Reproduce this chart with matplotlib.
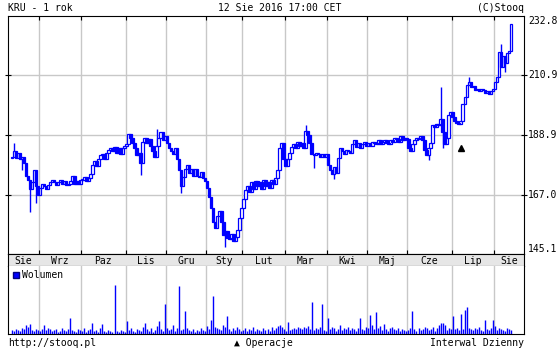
import matplotlib
matplotlib.use("Agg")
import matplotlib.pyplot as plt
import numpy as np

### DATA ###
months = ["Sie", "Wrz", "Paz", "Lis", "Gru", "Sty", "Lut", "Mar", "Kwi", "Maj", "Cze", "Lip", "Sie"]

close_aug15 = [181.0, 183.0, 180.5, 182.5, 180.0, 181.0, 178.5, 174.0, 172.5, 169.0, 171.5, 176.0, 170.0, 167.0]
close_sep = [169.5, 171.0, 170.0, 169.0, 170.5, 171.5, 172.5, 171.5, 170.5, 171.5, 172.5, 171.0, 172.0, 170.5,
             171.0, 172.0, 174.0, 171.0, 172.0, 171.0, 172.5]
close_oct = [172.5, 173.5, 172.0, 173.0, 174.5, 178.0, 179.5, 177.5, 180.0, 181.5, 182.0, 180.0, 182.5, 183.5,
             184.0, 183.0, 184.5, 182.5, 184.0, 182.0, 184.0, 185.0]
close_nov = [185.5, 189.5, 188.0, 186.0, 184.0, 181.5, 182.5, 178.5, 186.5, 188.0, 186.0, 187.5, 185.0, 183.0,
             181.0, 185.0, 188.0, 190.0, 187.0, 188.5]
close_dec = [186.0, 184.0, 183.0, 182.0, 184.0, 180.0, 176.0, 170.0, 173.5, 176.5, 178.0, 175.0, 176.5, 174.0,
             176.5, 174.0, 173.5, 175.5, 173.0, 172.0]
close_jan = [169.5, 166.0, 162.0, 157.0, 154.5, 159.0, 161.0, 157.0, 152.0, 153.5, 151.0, 150.5, 152.5, 150.0,
             151.5, 154.0, 158.5, 162.0]
close_feb = [165.5, 168.5, 170.0, 168.0, 171.5, 169.0, 172.0, 170.0, 171.5, 169.0, 172.5, 170.0, 171.5, 169.5,
             172.5, 171.0, 173.0, 176.0, 184.0, 186.0, 180.0]
close_mar = [177.5, 180.0, 182.5, 184.5, 185.5, 184.0, 186.5, 185.0, 186.0, 184.0, 190.5, 189.0, 186.0, 182.0,
             181.5, 182.5, 182.0, 181.0, 182.0, 181.0, 182.0]
close_apr = [178.0, 176.0, 174.5, 177.0, 175.0, 180.5, 184.0, 183.0, 182.0, 183.5, 183.0, 182.5, 185.5, 187.0,
             184.5, 186.0, 184.0, 185.5, 186.5, 185.0]
close_may = [186.0, 185.0, 186.5, 186.0, 185.5, 187.0, 185.5, 186.5, 187.0, 186.0, 185.5, 187.0, 186.5, 188.0,
             187.5, 186.5, 188.5, 187.0, 188.0, 187.5]
close_jun = [184.0, 183.0, 185.5, 187.0, 188.0, 187.5, 188.5, 187.0, 183.5, 181.5, 184.0, 186.0, 192.5, 192.0,
             193.0, 192.5, 195.0, 190.0, 185.5, 188.0, 196.5, 197.5]
close_jul = [195.5, 194.0, 193.5, 193.0, 194.0, 200.5, 203.0, 207.5, 208.5, 206.5, 207.0, 205.5, 206.0, 205.0,
             206.0, 205.5, 204.5, 205.0, 204.0, 205.0, 206.0]
close_aug16 = [208.5, 210.5, 219.5, 214.0, 218.0, 215.5, 219.0, 220.0, 230.0]

first_open = 180.5
wick_high = {1: 186.0, 72: 191.2, 146: 192.6, 213: 206.6, 227: 210.3, 243: 222.5}
wick_low = {5: 176.0, 9: 160.5, 12: 164.0, 64: 174.2, 84: 167.5, 106: 147.7, 150: 176.8,
            160: 172.7, 207: 179.7, 214: 184.2, 245: 212.0}

vol_aug15 = [4, 3, 5, 4, 3, 6, 5, 9, 7, 10, 4, 3, 5, 4]
vol_sep = [3, 5, 9, 4, 6, 5, 3, 4, 5, 2, 3, 6, 4, 3, 5, 16, 4, 3, 2, 5, 4]
vol_oct = [3, 6, 2, 4, 5, 11, 3, 4, 2, 6, 10, 3, 2, 4, 3, 2, 49, 3, 2, 4, 3, 2]
vol_nov = [13, 4, 6, 3, 2, 5, 4, 3, 7, 11, 5, 3, 6, 2, 4, 8, 13, 5, 3, 30]
vol_dec = [6, 4, 5, 9, 3, 6, 48, 4, 5, 23, 6, 4, 3, 5, 2, 4, 3, 6, 4, 3]
vol_jan = [8, 5, 14, 38, 7, 6, 5, 4, 9, 7, 18, 5, 3, 6, 4, 7, 5, 3]
vol_feb = [4, 6, 3, 5, 4, 7, 3, 5, 4, 3, 6, 4, 5, 3, 7, 4, 6, 8, 9, 7, 5]
vol_mar = [3, 12, 4, 5, 6, 5, 7, 6, 5, 7, 6, 8, 5, 32, 4, 6, 5, 7, 30, 4, 3]
vol_apr = [16, 5, 7, 6, 3, 5, 9, 4, 6, 5, 7, 4, 6, 5, 3, 6, 16, 5, 4, 7]
vol_may = [6, 19, 9, 5, 22, 6, 8, 4, 10, 5, 3, 6, 7, 5, 4, 6, 3, 5, 4, 3]
vol_jun = [4, 6, 23, 5, 3, 6, 4, 5, 7, 6, 4, 5, 7, 3, 6, 9, 11, 11, 9, 4, 6, 5]
vol_jul = [18, 5, 6, 4, 20, 5, 24, 27, 6, 5, 4, 6, 5, 7, 4, 3, 14, 5, 4, 6, 14]
vol_aug16 = [8, 4, 6, 5, 4, 3, 6, 5, 4]

price_ticks = [145.1, 167.0, 188.9, 210.9, 232.8]
op_index = [223]
op_price = [184.2]

### BUILD ###
closes_by_month = [close_aug15, close_sep, close_oct, close_nov, close_dec, close_jan, close_feb,
                   close_mar, close_apr, close_may, close_jun, close_jul, close_aug16]
vols_by_month = [vol_aug15, vol_sep, vol_oct, vol_nov, vol_dec, vol_jan, vol_feb,
                 vol_mar, vol_apr, vol_may, vol_jun, vol_jul, vol_aug16]
closes = np.array(sum(closes_by_month, []))
vols = np.array(sum(vols_by_month, []))
opens = np.concatenate([[first_open], closes[:-1]])
x = np.arange(len(closes))
highs = np.maximum(opens, closes)
lows = np.minimum(opens, closes)
for k, v in wick_high.items():
    highs[k] = v
for k, v in wick_low.items():
    lows[k] = v

counts = [len(m) for m in closes_by_month]
starts = np.concatenate([[0], np.cumsum(counts)[:-1]])
bounds = starts[1:] - 0.5
xmin, xmax = -1.9, 254.4
edges = np.concatenate([[xmin], bounds, [xmax]])
centers = (edges[:-1] + edges[1:]) / 2

blue = "#0000ff"
grid = "#c8c8c8"
fnt = dict(family="DejaVu Sans Mono", fontsize=7)

### PLOT ###
fig = plt.figure(figsize=(5.6, 3.5), dpi=100)
W, H = 560, 350
def box(l, t, r, b):
    return [l / W, 1 - b / H, (r - l) / W, (b - t) / H]

ax = fig.add_axes(box(8, 16, 524, 254))
band = fig.add_axes(box(8, 254, 524, 266))
axv = fig.add_axes(box(8, 266, 524, 334))

# price panel
for b in bounds:
    ax.axvline(b, color=grid, lw=1, zorder=0)
for p in price_ticks[1:-1]:
    ax.axhline(p, color=grid, lw=1, zorder=0)
ax.vlines(x, lows, highs, color=blue, lw=1, zorder=2)
up = closes >= opens
bottoms = np.minimum(opens, closes)
body_h = np.maximum(np.abs(closes - opens), 0.3)
ax.bar(x[up], body_h[up], bottom=bottoms[up], width=1.3,
       facecolor="white", edgecolor=blue, lw=0.9, zorder=3)
ax.bar(x[~up], body_h[~up], bottom=bottoms[~up], width=1.3,
       facecolor=blue, edgecolor=blue, lw=0.9, zorder=3)
ax.plot(op_index, op_price, marker="^", color="black", ms=5, ls="none", zorder=4)
ax.set_xlim(xmin, xmax)
ax.set_ylim(price_ticks[0], price_ticks[-1])
ax.set_xticks(bounds)
ax.set_xticklabels([])
ax.set_yticks(price_ticks[1:-1])
ax.set_yticklabels([])
ax.tick_params(axis="x", direction="in", length=3, top=True, bottom=False, color="black")
ax.tick_params(axis="y", direction="inout", length=5, left=True, right=True, color="black")
for i, p in enumerate(price_ticks):
    va = "center"
    if i == 0:
        va = "bottom"
    if i == len(price_ticks) - 1:
        va = "top"
    ax.text(1.008, (p - price_ticks[0]) / (price_ticks[-1] - price_ticks[0]), "%.1f" % p,
            transform=ax.transAxes, va=va, ha="left", **fnt)

# month band
band.set_facecolor("#e6e6e6")
band.set_xlim(xmin, xmax)
band.set_ylim(0, 1)
band.set_xticks(bounds)
band.set_xticklabels([])
band.set_yticks([])
band.tick_params(axis="x", direction="out", length=3, top=True, bottom=True)
for c, m in zip(centers, months):
    band.text(c, 0.45, m, ha="center", va="center", **fnt)

# volume panel
for b in bounds:
    axv.axvline(b, color=grid, lw=1, zorder=0)
axv.vlines(x, 0, vols, color=blue, lw=1, zorder=2)
axv.set_xlim(xmin, xmax)
axv.set_ylim(0, 68)
axv.set_xticks([])
axv.set_yticks([])
axv.spines["top"].set_visible(False)
axv.plot([2.3], [59], marker="s", color=blue, mec="#000080", ms=5, ls="none")
axv.text(5.2, 59, "Wolumen", va="center", ha="left", **fnt)

# header / footer
fig.text(8 / W, 1 - 3 / H, "KRU - 1 rok", ha="left", va="top", **fnt)
fig.text(280 / W, 1 - 3 / H, "12 Sie 2016 17:00 CET", ha="center", va="top", **fnt)
fig.text(524 / W, 1 - 3 / H, "(C)Stooq", ha="right", va="top", **fnt)
fig.text(8 / W, 1 - 338 / H, "http://stooq.pl", ha="left", va="top", **fnt)
fig.text(263 / W, 1 - 338 / H, "\u25b2 Operacje", ha="center", va="top", **fnt)
fig.text(524 / W, 1 - 338 / H, "Interwal Dzienny", ha="right", va="top", **fnt)

fig.savefig("out.png", dpi=100)
